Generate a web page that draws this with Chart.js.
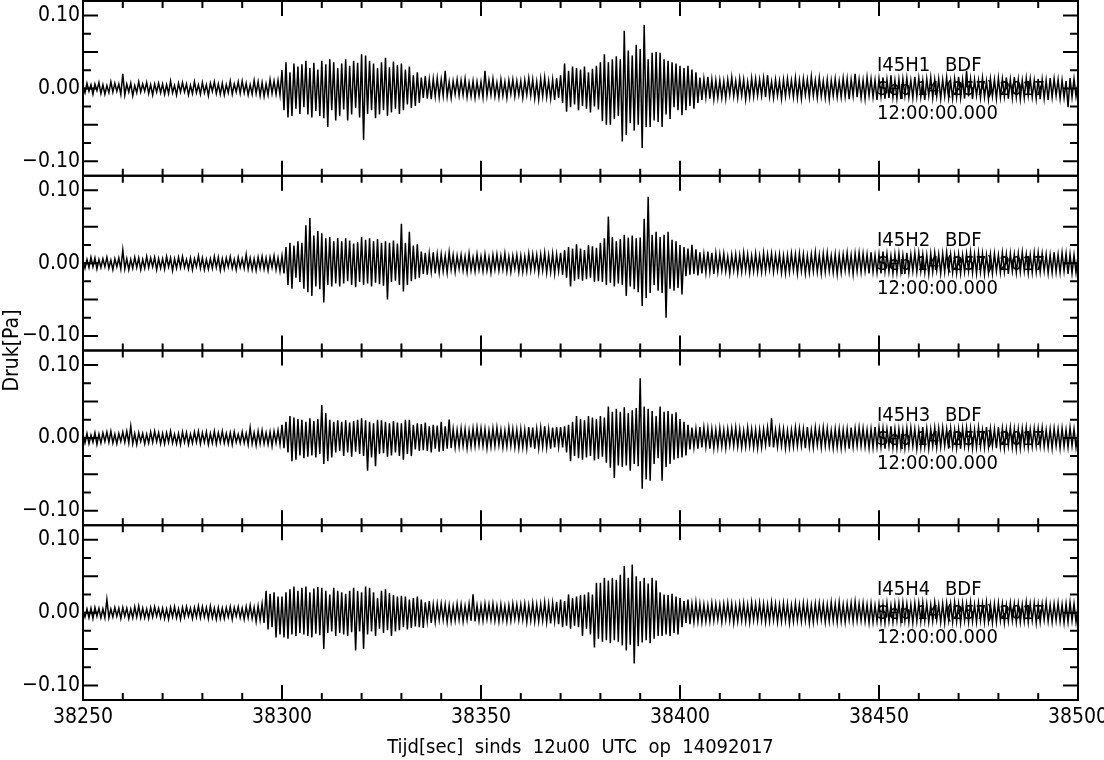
<!DOCTYPE html>
<html>
<head>
<meta charset="utf-8">
<script src="https://cdn.jsdelivr.net/npm/chart.js@4.4.0/dist/chart.umd.min.js"></script>
<style>
	html, body { margin:0; padding:0; background:#fff; }
	canvas { display:block; }
</style>
</head>
<body>
<canvas id="chartcanvas" width="1104" height="760"></canvas>
<script>
// two samples per second, values in mPa (one row = 5 s)
var tStart = 38250;
var tStep = 0.5;
var xTicks = [38250, 38300, 38350, 38400, 38450, 38500];
var xMinorStep = 10;
var yTicks = [-0.10, -0.05, 0, 0.05, 0.10];
var yMinor = [-0.075, -0.025, 0.025, 0.075];
var stations = ["I45H1", "I45H2", "I45H3", "I45H4"];
var channel = "BDF";
var dateLine = "Sep 14 (257) 2017";
var timeLine = "12:00:00.000";

var h1 = [
	3,-6,7,-4,5,-8,6,-3,8,-7, 5,-8,4,-6,9,-5,7,-4,6,-8, 20,-9,6,-5,7,-10,4,-6,9,-5, 6,-4,8,-7,5,-9,6,-5,7,-6,
	6,-8,5,-7,10,-6,4,-9,7,-5, 8,-5,6,-9,4,-7,9,-6,5,-8, 8,-6,5,-10,7,-4,9,-7,6,-8, 7,-9,5,-6,10,-8,6,-5,9,-7,
	10,-6,7,-9,5,-8,11,-7,9,-10, 8,-11,6,-9,12,-7,10,-8,11,-9,
	25,-30,36,-40,22,-38,34,-28,30,-35, 33,-26,38,-36,28,-40,35,-31,26,-38, 38,-41,33,-53,40,-30,36,-44,28,-38,
	34,-29,40,-44,31,-36,38,-27,35,-40, 47,-71,45,-35,38,-30,34,-41,28,-36, 36,-30,42,-38,29,-33,37,-28,32,-35,
	34,-30,26,-22,30,-27,18,-24,22,-20, 15,-13,17,-14,12,-15,13,-11,14,-12, 12,-10,24,-11,9,-13,10,-8,12,-10,
	11,-9,13,-12,8,-11,10,-13,9,-10, 9,-12,24,-10,11,-9,13,-11,8,-12, 12,-10,9,-13,11,-8,12,-11,10,-9,
	10,-13,11,-9,14,-10,12,-14,9,-15, 13,-11,15,-12,10,-14,12,-16,14,-13,
	18,-20,34,-32,24,-26,30,-22,28,-30, 26,-24,30,-28,22,-33,27,-25,31,-29, 36,-45,47,-50,36,-50,40,-42,44,-38,
	40,-73,79,-64,52,-48,45,-58,60,-50, 54,-82,87,-53,40,-53,49,-44,50,-46, 49,-53,40,-36,38,-42,36,-26,34,-30,
	31,-37,28,-30,31,-24,26,-28,22,-20, 15,-16,13,-12,16,-14,12,-15,11,-13,
	11,-13,10,-14,12,-9,15,-11,10,-13, 13,-10,12,-15,9,-12,14,-11,13,-10, 12,-10,14,-12,18,-11,9,-13,12,-10,
	10,-14,12,-11,13,-9,11,-12,14,-13, 11,-14,13,-9,12,-12,16,-10,11,-13, 14,-11,10,-13,12,-15,11,-10,13,-12,
	10,-12,14,-11,13,-15,12,-10,20,-12, 12,-13,11,-14,15,-10,13,-12,11,-16,
	13,-11,15,-14,12,-13,18,-12,11,-14, 12,-15,13,-10,14,-12,11,-13,16,-11, 14,-12,11,-16,13,-10,15,-13,12,-11,
	13,-14,12,-11,15,-13,10,-14,13,-12, 16,-13,12,-14,24,-11,13,-15,12,-10, 11,-13,14,-12,10,-15,13,-11,12,-14,
	14,-12,13,-11,15,-14,12,-13,16,-12, 12,-15,11,-13,14,-10,13,-12,11,-14, 13,-15,12,-14,11,-16,14,-12,13,-10,
	12,-14,11,-13,10,-26,14,-12,13,-11, 8];
var h2 = [
	4,-7,5,-6,8,-5,7,-8,5,-6, 6,-5,8,-7,4,-9,6,-5,7,-8, 18,-8,6,-9,5,-7,8,-6,7,-9, 5,-7,9,-6,7,-5,8,-9,6,-7,
	6,-8,9,-5,7,-10,6,-7,8,-6, 9,-6,5,-8,7,-9,6,-5,10,-7, 7,-9,5,-8,6,-7,9,-6,8,-10, 6,-8,7,-5,9,-7,5,-9,8,-6,
	6,-7,12,-8,7,-9,6,-10,8,-7, 9,-8,7,-10,8,-6,10,-9,7,-11,
	10,-14,22,-30,28,-35,24,-20,30,-26, 28,-35,52,-40,62,-45,38,-32,44,-36, 41,-54,34,-30,36,-32,30,-28,34,-32,
	30,-28,34,-25,31,-30,27,-33,29,-26, 36,-30,32,-28,34,-32,30,-27,33,-29, 28,-31,30,-50,28,-26,31,-24,27,-30,
	54,-39,28,-30,43,-25,24,-22,26,-20, 16,-15,14,-16,13,-12,15,-14,12,-13, 12,-11,10,-13,15,-9,11,-12,10,-8,
	11,-10,9,-12,13,-10,8,-11,12,-9, 9,-11,12,-10,8,-13,11,-9,12,-10, 10,-9,13,-11,9,-12,10,-8,11,-12,
	10,-12,9,-11,13,-10,12,-9,11,-13, 12,-10,14,-13,11,-12,13,-14,12,-11,
	14,-16,18,-20,22,-32,20,-24,26,-22, 20,-24,18,-22,25,-20,23,-26,21,-25, 28,-26,34,-30,64,-27,36,-32,30,-28,
	33,-30,39,-45,35,-32,38,-36,34,-40, 35,-59,61,-48,91,-41,39,-30,43,-38, 36,-41,39,-75,43,-35,32,-38,30,-34,
	25,-43,22,-18,20,-16,25,-15,19,-17, 15,-14,12,-13,16,-12,14,-15,13,-12,
	12,-10,13,-11,9,-14,11,-10,12,-13, 11,-12,14,-10,12,-13,10,-11,13,-12, 10,-12,14,-11,12,-9,13,-12,11,-10,
	12,-13,10,-14,11,-12,13,-10,12,-14, 13,-11,12,-14,10,-13,12,-11,15,-12, 11,-14,13,-12,14,-11,10,-13,12,-15,
	11,-13,12,-10,14,-12,11,-15,13,-11, 14,-12,13,-11,12,-14,15,-12,11,-13,
	12,-14,16,-11,13,-12,10,-14,12,-13, 13,-12,11,-15,14,-13,12,-11,14,-12, 14,-11,12,-13,11,-15,13,-12,14,-10,
	12,-14,13,-12,15,-11,12,-13,11,-14, 12,-14,11,-12,13,-11,15,-13,12,-14, 14,-12,13,-15,11,-13,12,-14,13,-11,
	11,-13,14,-12,12,-15,13,-11,12,-13, 13,-12,15,-11,12,-14,11,-13,14,-12, 14,-12,13,-11,12,-14,11,-13,15,-12,
	12,-13,14,-11,13,-15,12,-14,11,-13, 10];
var h3 = [
	5,-7,6,-8,4,-6,7,-9,5,-7, 7,-5,8,-6,9,-7,5,-8,6,-5, 8,-6,9,-7,16,-8,6,-9,7,-5, 6,-8,5,-7,8,-6,9,-5,7,-8,
	6,-8,7,-6,9,-7,5,-8,6,-9, 8,-6,7,-9,5,-7,8,-6,9,-8, 7,-6,8,-9,6,-7,9,-8,7,-6, 9,-7,6,-8,7,-9,8,-6,5,-7,
	8,-7,6,-9,14,-8,7,-10,9,-8, 10,-8,7,-9,8,-11,9,-7,10,-9,
	18,-14,22,-20,30,-32,28,-30,26,-24, 25,-28,22,-26,27,-24,23,-27,26,-22, 45,-36,34,-32,25,-27,22,-20,24,-18,
	22,-25,24,-20,21,-26,23,-19,25,-22, 27,-25,24,-45,22,-27,20,-39,25,-22, 24,-21,22,-26,20,-24,23,-20,21,-25,
	20,-30,25,-22,25,-25,18,-16,20,-18, 19,-17,21,-18,16,-20,18,-15,17,-19, 22,-18,16,-15,25,-14,12,-13,11,-12,
	13,-11,12,-14,10,-12,13,-11,14,-10, 13,-11,12,-14,10,-12,13,-11,14,-10, 11,-13,10,-12,14,-11,12,-13,11,-14,
	12,-13,11,-14,15,-13,14,-15,12,-14, 14,-12,16,-13,12,-15,14,-13,15,-12,
	15,-13,16,-20,18,-32,22,-25,30,-28, 26,-30,24,-27,30,-25,28,-31,26,-29, 30,-26,28,-34,43,-41,36,-55,40,-38,
	36,-40,42,-38,34,-45,38,-36,41,-39, 82,-70,43,-57,40,-59,37,-36,30,-28, 43,-59,36,-40,37,-36,33,-30,35,-28,
	26,-27,22,-24,18,-16,14,-13,12,-15, 15,-13,14,-12,13,-15,12,-14,11,-13,
	13,-12,11,-14,12,-10,13,-11,14,-12, 12,-13,10,-12,14,-11,12,-13,11,-14, 11,-13,12,-10,14,-12,27,-13,11,-12,
	13,-11,12,-14,10,-13,11,-12,14,-11, 13,-11,12,-14,15,-12,11,-13,14,-10, 12,-13,14,-11,13,-12,10,-14,12,-13,
	12,-14,11,-13,12,-15,14,-12,13,-11, 14,-11,13,-12,11,-14,12,-13,15,-12,
	14,-12,13,-15,12,-11,16,-13,12,-14, 12,-13,11,-14,13,-12,14,-11,12,-15, 11,-13,15,-12,13,-14,12,-11,14,-13,
	13,-12,14,-11,12,-15,13,-12,11,-14, 12,-15,13,-11,14,-12,13,-14,11,-13, 14,-12,11,-13,15,-12,13,-11,12,-14,
	15,-12,13,-14,12,-11,14,-13,12,-15, 12,-14,13,-11,14,-13,12,-12,13,-11, 13,-11,14,-12,11,-13,12,-14,13,-11,
	12,-14,13,-12,11,-13,14,-11,12,-13, 9];
var h4 = [
	4,-6,5,-7,6,-8,7,-5,6,-7, 5,-7,18,-7,5,-6,7,-5,6,-8, 7,-5,6,-8,5,-7,8,-6,9,-7, 6,-7,5,-8,7,-6,8,-5,6,-7,
	6,-8,5,-9,7,-6,8,-7,5,-9, 7,-6,8,-5,6,-8,7,-6,9,-7, 8,-6,7,-8,9,-7,6,-9,7,-8, 6,-8,7,-6,8,-9,7,-5,8,-7,
	6,-9,8,-7,10,-8,7,-12,9,-10, 12,-14,30,-23,26,-20,28,-34,22,-30,
	22,-34,28,-36,32,-30,36,-32,30,-28, 34,-30,36,-32,28,-34,33,-29,35,-31, 34,-50,30,-28,25,-26,34,-32,30,-28,
	28,-30,26,-32,30,-27,34,-52,30,-26, 28,-50,36,-30,34,-26,28,-32,20,-22, 30,-28,32,-24,27,-32,24,-26,22,-24,
	23,-20,22,-23,18,-21,20,-19,22,-20, 18,-21,14,-12,16,-14,11,-13,12,-10, 12,-10,11,-13,10,-12,9,-11,12,-10,
	11,-12,9,-10,12,-11,25,-12,10,-11, 10,-11,12,-9,11,-10,12,-11,9,-12, 11,-10,9,-12,10,-11,12,-9,11,-10,
	11,-10,12,-13,10,-11,13,-12,11,-12, 12,-11,14,-13,12,-15,13,-12,15,-16,
	18,-20,16,-18,25,-22,20,-18,22,-20, 24,-32,25,-22,28,-30,25,-48,41,-36, 41,-40,48,-38,44,-42,48,-38,45,-40,
	52,-45,64,-52,48,-44,66,-70,50,-46, 43,-41,48,-38,40,-42,48,-36,44,-32, 28,-32,25,-30,24,-32,26,-28,22,-30,
	20,-20,16,-14,18,-16,12,-13,14,-12, 12,-13,11,-12,10,-12,13,-11,12,-10,
	11,-13,12,-10,13,-11,12,-14,10,-12, 12,-11,13,-12,11,-13,14,-10,12,-11, 13,-11,12,-13,11,-12,14,-10,12,-13,
	11,-12,13,-11,12,-14,10,-12,13,-11, 11,-12,13,-11,12,-14,10,-13,12,-11, 13,-10,12,-13,11,-12,14,-11,12,-13,
	14,-12,11,-13,12,-10,13,-12,15,-11, 12,-11,13,-12,11,-14,12,-13,10,-12,
	12,-13,11,-14,13,-12,10,-13,12,-11, 13,-12,14,-11,12,-13,11,-14,13,-12, 13,-12,14,-11,12,-13,11,-12,14,-10,
	11,-13,12,-14,13,-11,12,-13,14,-12, 12,-14,13,-11,12,-13,14,-12,11,-13, 13,-11,12,-13,14,-12,11,-14,12,-13,
	13,-11,12,-14,10,-12,13,-11,12,-13, 12,-13,11,-12,14,-13,12,-11,13,-14, 11,-13,12,-10,14,-12,11,-13,12,-11,
	13,-12,11,-14,12,-13,14,-11,12,-13, 9];

var traces = [h1, h2, h3, h4];
var panelIds = ["y1", "y2", "y3", "y4"];
var fontFam = '"Liberation Sans Narrow", "DejaVu Sans Condensed", "Arial Narrow", sans-serif';

function toPoints(arr) {
	return arr.map(function(v, i){ return {x: tStart + i * tStep, y: v / 1000}; });
}

var datasets = traces.map(function(tr, k){
	return {
		label : stations[k],
		data : toPoints(tr),
		yAxisID : panelIds[k],
		borderColor : "#000",
		borderWidth : 1.5,
		pointRadius : 0,
		tension : 0,
		fill : false
	};
});

var scales = {
	x : {
		type : "linear",
		min : xTicks[0],
		max : xTicks[xTicks.length - 1],
		grid : { display:false, drawTicks:false },
		border : { display:false },
		afterBuildTicks : function(a){ a.ticks = xTicks.map(function(v){ return {value:v}; }); },
		afterFit : function(s){ s.paddingLeft = 0; s.paddingRight = 0; s.height = 60; },
		ticks : { color:"#000", font:{ size:21, family:fontFam }, padding:5, maxRotation:0, autoSkip:false,
			callback : function(v){ return String(v); } },
		title : { display:true, text:"Tijd[sec]  sinds  12u00  UTC  op  14092017", color:"#000",
			font:{ size:20, family:fontFam }, padding:{ top:5, bottom:0 } }
	}
};
// stacked panels, top to bottom
panelIds.slice().reverse().forEach(function(id){
	scales[id] = {
		type : "linear",
		position : "left",
		stack : "panels",
		stackWeight : 1,
		min : -0.12,
		max : 0.12,
		grid : { display:false, drawTicks:false },
		border : { display:false },
		afterBuildTicks : function(a){ a.ticks = yTicks.map(function(v){ return {value:v}; }); },
		afterFit : function(s){ s.width = 83; s.paddingTop = 0; s.paddingBottom = 0; },
		ticks : { color:"#000", font:{ size:21, family:fontFam }, padding:3,
			callback : function(v){ var s = Math.abs(v).toFixed(2); return v < -1e-9 ? "\u2212" + s : s; } }
	};
});

var frame = {
	id : "frame",
	beforeDatasetsDraw : function(chart){
		var ctx = chart.ctx;
		ctx.save();
		ctx.fillStyle = "#000";
		ctx.font = "20px " + fontFam;
		ctx.textBaseline = "alphabetic";
		panelIds.forEach(function(id, k){
			var s = chart.scales[id];
			ctx.fillText(stations[k], 877, s.top + 70);
			ctx.fillText(channel, 945, s.top + 70);
			ctx.fillText(dateLine, 877, s.top + 94);
			ctx.fillText(timeLine, 877, s.top + 118);
		});
		ctx.restore();
	},
	afterDraw : function(chart){
		var ctx = chart.ctx, area = chart.chartArea, xs = chart.scales.x;
		ctx.save();
		ctx.strokeStyle = "#000";
		ctx.lineWidth = 2;
		panelIds.forEach(function(id){
			var s = chart.scales[id];
			var top = s.top, bot = s.bottom, l = area.left, r = area.right;
			ctx.strokeRect(l, top, r - l, bot - top);
			ctx.beginPath();
			yTicks.forEach(function(v){
				var y = s.getPixelForValue(v);
				ctx.moveTo(l, y); ctx.lineTo(l + 15, y);
				ctx.moveTo(r, y); ctx.lineTo(r - 15, y);
			});
			yMinor.forEach(function(v){
				var y = s.getPixelForValue(v);
				ctx.moveTo(l, y); ctx.lineTo(l + 8, y);
				ctx.moveTo(r, y); ctx.lineTo(r - 8, y);
			});
			for (var t = xs.min; t <= xs.max; t += xMinorStep) {
				var x = xs.getPixelForValue(t);
				var len = ((t - xs.min) % 50 === 0) ? 15 : 7;
				ctx.moveTo(x, top); ctx.lineTo(x, top + len);
				ctx.moveTo(x, bot); ctx.lineTo(x, bot - len);
			}
			ctx.stroke();
		});
		// shared y title
		ctx.fillStyle = "#000";
		ctx.font = "21px " + fontFam;
		ctx.textAlign = "center";
		ctx.textBaseline = "middle";
		ctx.translate(13, chart.scales.y2.bottom);
		ctx.rotate(-Math.PI / 2);
		ctx.fillText("Druk[Pa]", 0, 0);
		ctx.restore();
	}
};

var ctx = document.getElementById("chartcanvas").getContext("2d");
var myChart = new Chart(ctx, {
	type : "line",
	data : { datasets : datasets },
	options : {
		responsive : false,
		animation : false,
		devicePixelRatio : 1,
		layout : { padding : { top:1, right:26, left:0, bottom:0 } },
		plugins : { legend : { display:false }, tooltip : { enabled:false } },
		scales : scales
	},
	plugins : [frame]
});
</script>
</body>
</html>
